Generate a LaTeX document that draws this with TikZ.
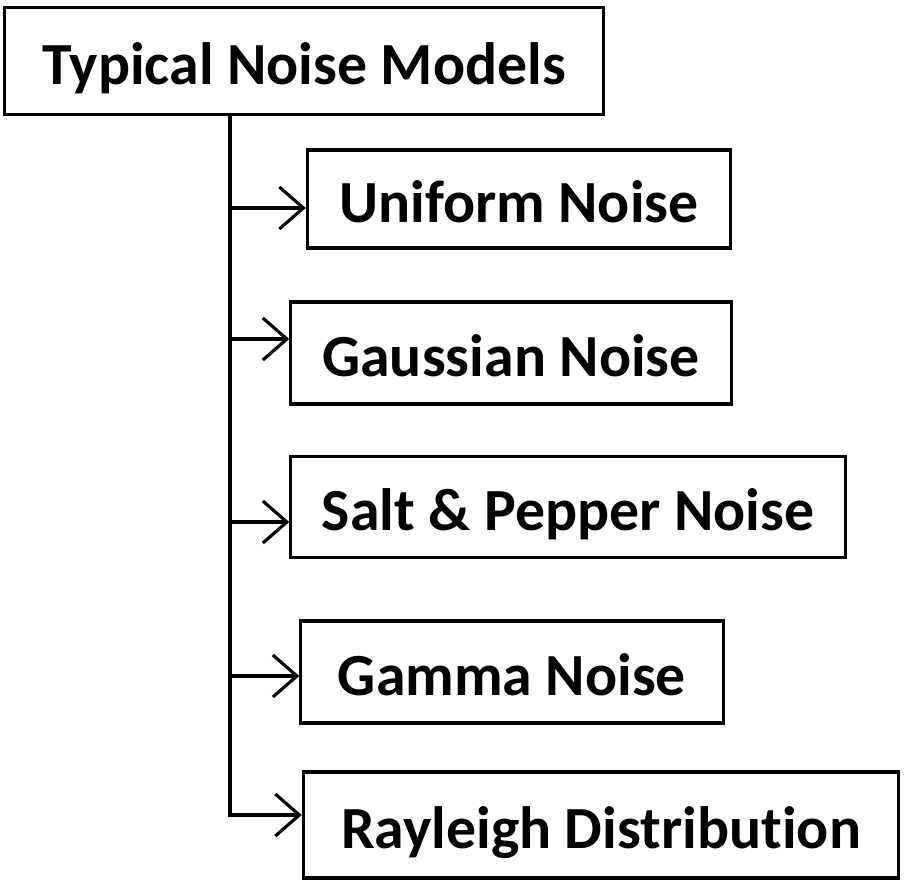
\documentclass[tikz,border=0pt]{standalone}
\usepackage{fontspec}
\setmainfont{Carlito}[Ligatures=NoCommon]
\usetikzlibrary{arrows.meta, positioning}

\begin{document}
\begin{tikzpicture}[x=0.01cm, y=-0.01cm]
      \tikzset{
        box/.style={draw, line width=0.9pt, font=\bfseries\fontsize{17pt}{20pt}\selectfont,
          text height=0.46cm, text depth=0cm, inner sep=0pt},
        arr/.style={line width=0.9pt, -{Straight Barb[length=2.4mm, width=4.2mm, line width=0.9pt]}}
      }
      \useasboundingbox (0,0) rectangle (907,885);

      % root
      \node[box, minimum width=5.98cm, minimum height=1.07cm] (top) at (304,61) {Typical Noise Models};

      % noise types
      \node[box, minimum width=4.23cm, minimum height=0.98cm] (uni) at (519,199) {Uniform Noise};
      \node[box, minimum width=4.40cm, minimum height=1.02cm] (gau) at (511,353) {Gaussian Noise};
      \node[box, minimum width=5.54cm, minimum height=1.01cm] (salt) at (568,507) {Salt \& Pepper Noise};
      \node[box, minimum width=4.22cm, minimum height=1.02cm] (gam) at (512,672) {Gamma Noise};
      \node[box, minimum width=5.95cm, minimum height=1.06cm] (ray) at (601,825) {Rayleigh Distribution};

      % connectors
      \coordinate (trunk) at (230,0);
      \foreach \b/\dy in {uni/-0.09, gau/0.14, salt/-0.15, gam/-0.04, ray/0.1}
        \coordinate (in-\b) at ([yshift=\dy cm]\b.west);
      \draw[arr] (top.south -| trunk) |- (in-ray);
      \foreach \b in {uni, gau, salt, gam}
        \draw[arr] (trunk |- in-\b) -- (in-\b);
\end{tikzpicture}
\end{document}
